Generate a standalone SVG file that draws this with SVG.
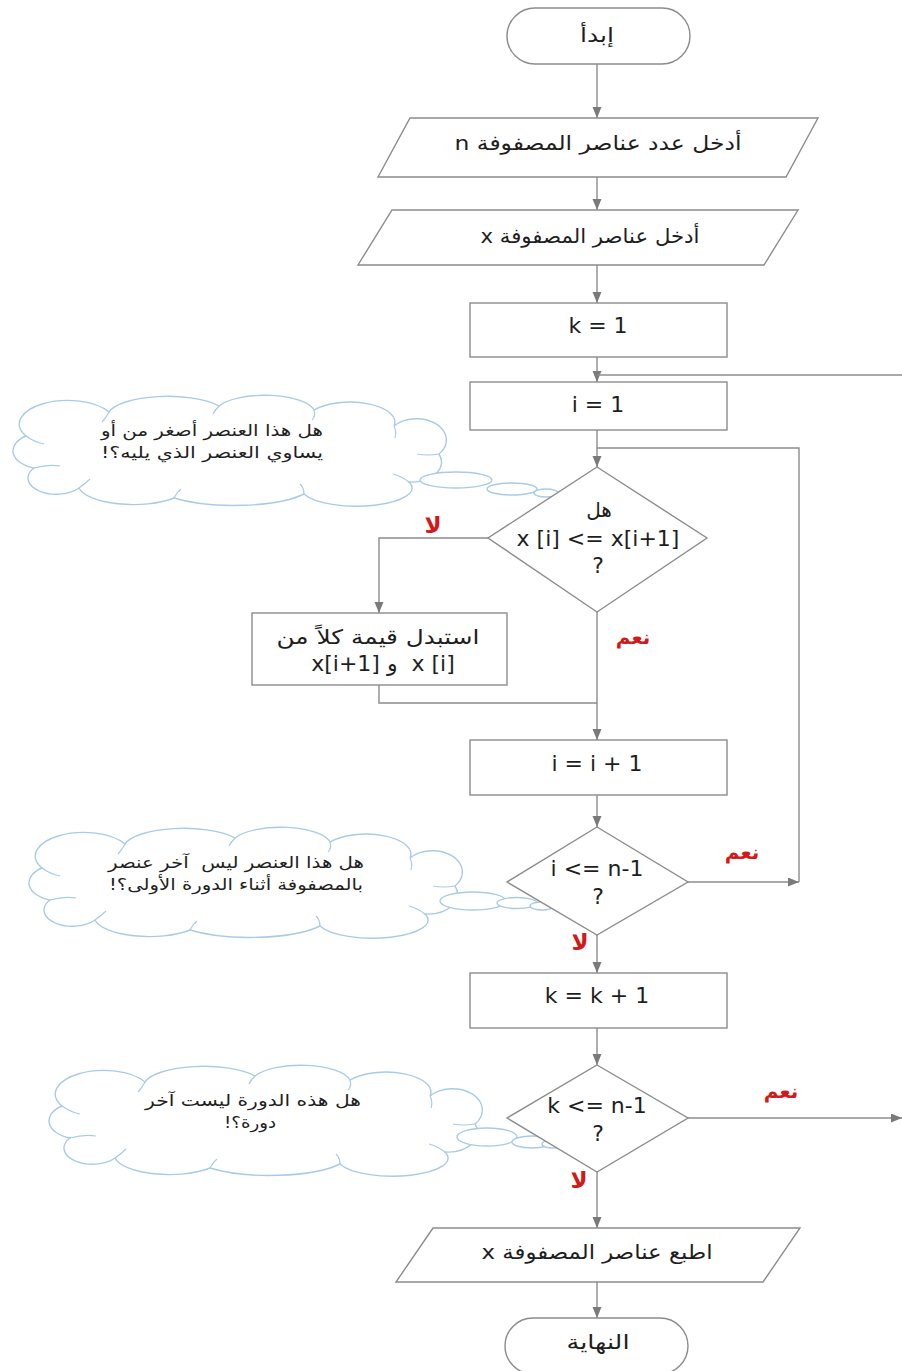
<svg xmlns="http://www.w3.org/2000/svg" xmlns:xlink="http://www.w3.org/1999/xlink" width="902" height="1371" viewBox="0 0 902 1371">
  <style>
    .shape { fill: #ffffff; stroke: #8c8c8c; stroke-width: 1.4; }
    .link { fill: none; stroke: #8c8c8c; stroke-width: 1.4; }
    .cloud { fill: #ffffff; stroke: #a9cbe8; stroke-width: 1.4; }
    .curl { fill: none; stroke: #a9cbe8; stroke-width: 1.2; }
    .t { font-family: "DejaVu Sans", "Noto Sans", sans-serif; font-size: 22px; fill: #1e1e1e; text-anchor: middle; }
    .ar { font-size: 20px; direction: rtl; unicode-bidi: embed; }
    .note { font-family: "DejaVu Sans", "Noto Sans", sans-serif; font-size: 16px; fill: #1e1e1e; text-anchor: middle; direction: rtl; unicode-bidi: embed; }
    .yes, .no { font-family: "DejaVu Sans", "Noto Sans", sans-serif; font-weight: bold; fill: #d21a1a; text-anchor: middle; direction: rtl; unicode-bidi: embed; }
    .yes { font-size: 20px; }
    .no { font-size: 23px; }
  </style>
  <defs>
    <marker id="arrow" markerUnits="userSpaceOnUse" markerWidth="12" markerHeight="10" refX="11" refY="4.5" orient="auto">
      <path d="M0,0 L11,4.5 L0,9 Z" fill="#7a7a7a"/>
    </marker>
    <!-- thought-cloud outline, local box about 440 x 105 -->
    <path id="cloudShape" d="M 30 72 A 30 18 0 0 1 22 40 A 45 22 0 0 1 105 16 A 60 20 0 0 1 215 10 A 50 18 0 0 1 310 14 A 45 20 0 0 1 390 30 A 28 20 0 0 1 435 58 A 30 20 0 0 1 405 86 A 55 18 0 0 1 300 98 A 80 22 0 0 1 170 102 A 55 20 0 0 1 75 92 A 28 16 0 0 1 30 72 Z"/>
    <g id="cloudCurls">
      <path d="M 30 72 Q 44 68 56 70"/>
      <path d="M 22 40 Q 30 46 40 48"/>
      <path d="M 105 16 Q 102 22 98 26"/>
      <path d="M 215 10 Q 211 14 209 18"/>
      <path d="M 310 14 Q 312 20 308 24"/>
      <path d="M 390 30 Q 393 36 391 42"/>
      <path d="M 435 58 Q 423 60 413 58"/>
      <path d="M 405 86 Q 397 80 389 78"/>
      <path d="M 300 98 Q 300 92 296 88"/>
      <path d="M 170 102 Q 173 96 177 93"/>
      <path d="M 75 92 Q 82 87 86 83"/>
    </g>
  </defs>

  <!-- comment clouds -->
  <g id="note-compare">
    <use xlink:href="#cloudShape" class="cloud" transform="translate(4,396)"/>
    <use xlink:href="#cloudCurls" class="curl" transform="translate(4,396)"/>
    <ellipse class="cloud" cx="456" cy="480" rx="36" ry="8"/>
    <ellipse class="cloud" cx="512" cy="489" rx="25" ry="6"/>
    <ellipse class="cloud" cx="546" cy="493" rx="12" ry="4"/>
    <text class="note" x="212" y="436" textLength="222" lengthAdjust="spacingAndGlyphs">هل هذا العنصر أصغر من أو</text>
    <text class="note" x="212" y="458" textLength="222" lengthAdjust="spacingAndGlyphs">يساوي العنصر الذي يليه؟!</text>
  </g>
  <g id="note-last-item">
    <use xlink:href="#cloudShape" class="cloud" transform="translate(20,828)"/>
    <use xlink:href="#cloudCurls" class="curl" transform="translate(20,828)"/>
    <ellipse class="cloud" cx="473" cy="901" rx="33" ry="9"/>
    <ellipse class="cloud" cx="517" cy="903" rx="20" ry="5.5"/>
    <ellipse class="cloud" cx="542" cy="906" rx="12" ry="4"/>
    <text class="note" x="236" y="868" textLength="256" lengthAdjust="spacingAndGlyphs" xml:space="preserve">هل هذا العنصر ليس  آخر عنصر</text>
    <text class="note" x="236" y="890" textLength="254" lengthAdjust="spacingAndGlyphs">بالمصفوفة أثناء الدورة الأولى؟!</text>
  </g>
  <g id="note-last-pass">
    <use xlink:href="#cloudShape" class="cloud" transform="translate(40,1066)"/>
    <use xlink:href="#cloudCurls" class="curl" transform="translate(40,1066)"/>
    <ellipse class="cloud" cx="487" cy="1137" rx="30" ry="9"/>
    <ellipse class="cloud" cx="532" cy="1142" rx="20" ry="6"/>
    <ellipse class="cloud" cx="553" cy="1144" rx="11" ry="4"/>
    <text class="note" x="253" y="1106" textLength="216" lengthAdjust="spacingAndGlyphs">هل هذه الدورة ليست آخر</text>
    <text class="note" x="250" y="1128" textLength="52" lengthAdjust="spacingAndGlyphs">دورة؟!</text>
  </g>

  <!-- connectors -->
  <g id="connectors">
    <path class="link" d="M597,64 V118" marker-end="url(#arrow)"/>
    <path class="link" d="M597,177 V210" marker-end="url(#arrow)"/>
    <path class="link" d="M597,265 V303" marker-end="url(#arrow)"/>
    <path class="link" d="M597,357 V382" marker-end="url(#arrow)"/>
    <path class="link" d="M597,375 H902"/>
    <path class="link" d="M597,430 V467" marker-end="url(#arrow)"/>
    <path class="link" d="M597,448 H799 V882"/>
    <path class="link" d="M488,538 H379 V613" marker-end="url(#arrow)"/>
    <path class="link" d="M597,612 V740" marker-end="url(#arrow)"/>
    <path class="link" d="M379,685 V703 H597"/>
    <path class="link" d="M597,795 V827" marker-end="url(#arrow)"/>
    <path class="link" d="M688,882 H799" marker-end="url(#arrow)"/>
    <path class="link" d="M597,935 V973" marker-end="url(#arrow)"/>
    <path class="link" d="M597,1028 V1065" marker-end="url(#arrow)"/>
    <path class="link" d="M688,1118 H902" marker-end="url(#arrow)"/>
    <path class="link" d="M597,1172 V1228" marker-end="url(#arrow)"/>
    <path class="link" d="M597,1282 V1318" marker-end="url(#arrow)"/>
    <text class="no" x="433" y="533">لا</text>
    <text class="yes" x="633" y="644">نعم</text>
    <text class="yes" x="742" y="859">نعم</text>
    <text class="no" x="580" y="950">لا</text>
    <text class="yes" x="781" y="1098">نعم</text>
    <text class="no" x="579" y="1188">لا</text>
  </g>

  <!-- nodes -->
  <g id="start">
    <rect class="shape" x="507" y="8" width="183" height="56" rx="28" ry="28"/>
    <text class="t ar" x="597" y="42" textLength="34" lengthAdjust="spacingAndGlyphs">إبدأ</text>
  </g>
  <g id="input-n">
    <polygon class="shape" points="410,118 818,118 786,177 378,177"/>
    <text class="t ar" x="598" y="150" textLength="287" lengthAdjust="spacingAndGlyphs">أدخل عدد عناصر المصفوفة n</text>
  </g>
  <g id="input-x">
    <polygon class="shape" points="392,210 798,210 764,265 358,265"/>
    <text class="t ar" x="590" y="243" textLength="219" lengthAdjust="spacingAndGlyphs">أدخل عناصر المصفوفة x</text>
  </g>
  <g id="set-k">
    <rect class="shape" x="470" y="303" width="257" height="54"/>
    <text class="t" x="598" y="333">k = 1</text>
  </g>
  <g id="set-i">
    <rect class="shape" x="470" y="382" width="257" height="48"/>
    <text class="t" x="598" y="412">i = 1</text>
  </g>
  <g id="compare">
    <polygon class="shape" points="597,467 707,538 597,612 488,538"/>
    <text class="t ar" x="599" y="517">هل</text>
    <text class="t" x="598" y="546">x [i] &lt;= x[i+1]</text>
    <text class="t" x="598" y="573">?</text>
  </g>
  <g id="swap">
    <rect class="shape" x="252" y="613" width="255" height="72"/>
    <text class="t ar" x="378" y="644" textLength="203" lengthAdjust="spacingAndGlyphs">استبدل قيمة كلاً من</text>
    <text class="t" x="383" y="671" style="direction:ltr" xml:space="preserve">x[i+1] و  x [i]</text>
  </g>
  <g id="inc-i">
    <rect class="shape" x="470" y="740" width="257" height="55"/>
    <text class="t" x="597" y="771">i = i + 1</text>
  </g>
  <g id="check-i">
    <polygon class="shape" points="597,827 688,882 597,935 507,882"/>
    <text class="t" x="597" y="876">i &lt;= n-1</text>
    <text class="t" x="598" y="904">?</text>
  </g>
  <g id="inc-k">
    <rect class="shape" x="470" y="973" width="257" height="55"/>
    <text class="t" x="597" y="1003">k = k + 1</text>
  </g>
  <g id="check-k">
    <polygon class="shape" points="597,1065 688,1118 597,1172 507,1118"/>
    <text class="t" x="597" y="1113">k &lt;= n-1</text>
    <text class="t" x="598" y="1141">?</text>
  </g>
  <g id="print-x">
    <polygon class="shape" points="433,1228 800,1228 763,1282 396,1282"/>
    <text class="t ar" x="597" y="1259" textLength="231" lengthAdjust="spacingAndGlyphs">اطبع عناصر المصفوفة x</text>
  </g>
  <g id="end">
    <rect class="shape" x="505" y="1318" width="183" height="56" rx="28" ry="28"/>
    <text class="t ar" x="598" y="1349" textLength="63" lengthAdjust="spacingAndGlyphs">النهاية</text>
  </g>
</svg>
